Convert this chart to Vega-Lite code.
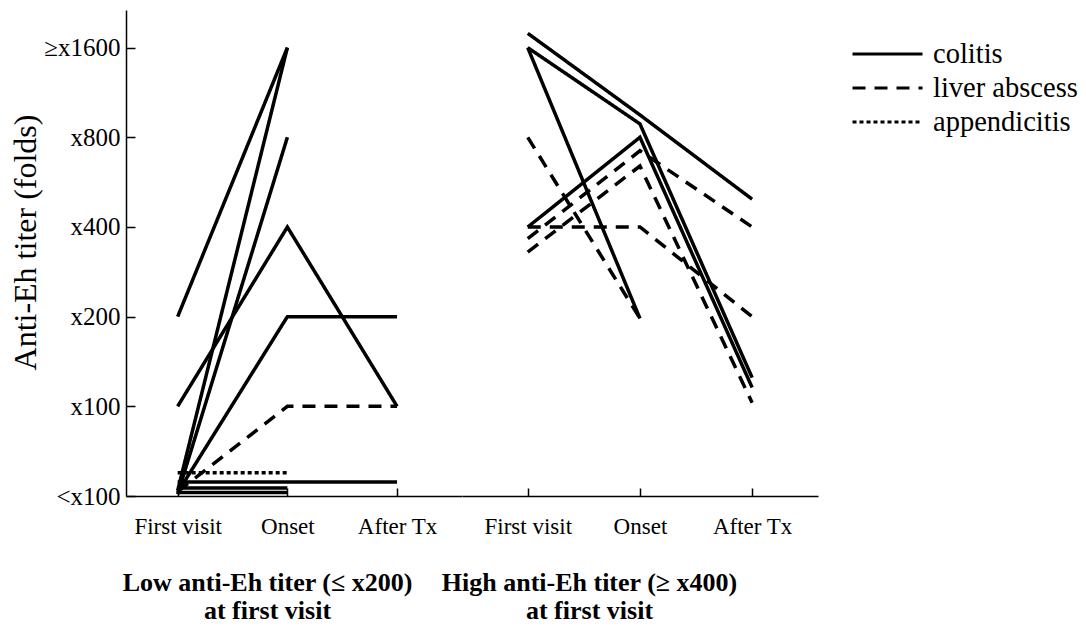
{
  "$schema": "https://vega.github.io/schema/vega-lite/v6.json",
  "padding": {"left": 9, "top": 10, "right": 5, "bottom": 5},
  "background": "white",
  "bounds": "flush",
  "config": {
    "view": {"stroke": null},
    "concat": {"spacing": 0},
    "font": "Liberation Serif",
    "axis": {
      "labelFont": "Liberation Serif", "titleFont": "Liberation Serif",
      "labelColor": "black", "titleColor": "black",
      "domainColor": "black", "tickColor": "black",
      "grid": false, "domainWidth": 1.5, "tickWidth": 1.5
    }
  },
  "datasets": {
    "low": [
      {"id": "L1", "dx": "colitis", "t": 1, "level": 2.0},
      {"id": "L1", "dx": "colitis", "t": 2, "level": 5.0},
      {"id": "L2", "dx": "colitis", "t": 1, "level": 1.0},
      {"id": "L2", "dx": "colitis", "t": 2, "level": 3.0},
      {"id": "L2", "dx": "colitis", "t": 3, "level": 1.0},
      {"id": "L3", "dx": "colitis", "t": 1, "level": 0.04},
      {"id": "L3", "dx": "colitis", "t": 2, "level": 2.0},
      {"id": "L3", "dx": "colitis", "t": 3, "level": 2.0},
      {"id": "L4", "dx": "colitis", "t": 1, "level": 0.06},
      {"id": "L4", "dx": "colitis", "t": 2, "level": 5.0},
      {"id": "L5", "dx": "colitis", "t": 1, "level": 0.02},
      {"id": "L5", "dx": "colitis", "t": 2, "level": 4.0},
      {"id": "L6", "dx": "colitis", "t": 1, "level": 0.155},
      {"id": "L6", "dx": "colitis", "t": 2, "level": 0.155},
      {"id": "L6", "dx": "colitis", "t": 3, "level": 0.155},
      {"id": "L7", "dx": "colitis", "t": 1, "level": 0.09},
      {"id": "L7", "dx": "colitis", "t": 2, "level": 0.09},
      {"id": "L8", "dx": "colitis", "t": 1, "level": 0.04},
      {"id": "L8", "dx": "colitis", "t": 2, "level": 0.04},
      {"id": "L9", "dx": "liver abscess", "t": 1, "level": 0.05},
      {"id": "L9", "dx": "liver abscess", "t": 2, "level": 1.0},
      {"id": "L9", "dx": "liver abscess", "t": 3, "level": 1.0},
      {"id": "L10", "dx": "appendicitis", "t": 1, "level": 0.26},
      {"id": "L10", "dx": "appendicitis", "t": 2, "level": 0.26}
    ],
    "high": [
      {"id": "R1", "dx": "colitis", "t": 1, "level": 5.16},
      {"id": "R1", "dx": "colitis", "t": 2, "level": 4.25},
      {"id": "R1", "dx": "colitis", "t": 3, "level": 3.31},
      {"id": "R2", "dx": "colitis", "t": 1, "level": 5.0},
      {"id": "R2", "dx": "colitis", "t": 2, "level": 4.15},
      {"id": "R2", "dx": "colitis", "t": 3, "level": 1.32},
      {"id": "R3", "dx": "colitis", "t": 1, "level": 3.0},
      {"id": "R3", "dx": "colitis", "t": 2, "level": 4.0},
      {"id": "R3", "dx": "colitis", "t": 3, "level": 1.21},
      {"id": "R4", "dx": "colitis", "t": 1, "level": 5.0},
      {"id": "R4", "dx": "colitis", "t": 2, "level": 1.98},
      {"id": "D1", "dx": "liver abscess", "t": 1, "level": 4.0},
      {"id": "D1", "dx": "liver abscess", "t": 2, "level": 1.98},
      {"id": "D2", "dx": "liver abscess", "t": 1, "level": 3.0},
      {"id": "D2", "dx": "liver abscess", "t": 2, "level": 3.0},
      {"id": "D2", "dx": "liver abscess", "t": 3, "level": 2.0},
      {"id": "D3", "dx": "liver abscess", "t": 1, "level": 2.87},
      {"id": "D3", "dx": "liver abscess", "t": 2, "level": 3.85},
      {"id": "D3", "dx": "liver abscess", "t": 3, "level": 3.0},
      {"id": "D4", "dx": "liver abscess", "t": 1, "level": 2.72},
      {"id": "D4", "dx": "liver abscess", "t": 2, "level": 3.68},
      {"id": "D4", "dx": "liver abscess", "t": 3, "level": 1.04}
    ]
  },
  "hconcat": [
    {
      "width": 336,
      "height": 486,
      "data": {"name": "low"},
      "mark": {"type": "line", "stroke": "black", "strokeWidth": 3.5, "strokeCap": "butt"},
      "encoding": {
        "x": {
          "field": "t", "type": "quantitative",
          "scale": {"domain": [0.529, 3.592], "nice": false, "zero": false},
          "axis": {
            "values": [1, 2, 3],
            "labelExpr": "datum.value == 1 ? 'First visit' : datum.value == 2 ? 'Onset' : 'After Tx'",
            "labelFontSize": 23, "tickSize": -8, "labelPadding": 27,
            "title": ["Low anti-Eh titer (≤ x200)", "at first visit"],
            "titleFontSize": 26, "titleFontWeight": "bold",
            "titleX": 141, "titleY": 73, "titleBaseline": "top", "titleLineHeight": 28
          }
        },
        "y": {
          "field": "level", "type": "quantitative",
          "scale": {"domain": [0, 5.42], "nice": false, "zero": false},
          "axis": {
            "values": [0, 1, 2, 3, 4, 5],
            "labelExpr": "['<x100','x100','x200','x400','x800','≥x1600'][datum.value]",
            "labelFontSize": 25, "tickSize": -9, "labelPadding": 15,
            "title": "Anti-Eh titer (folds)", "titleFontSize": 32, "titleFontWeight": "normal",
            "titleX": -84, "titleY": 232
          }
        },
        "detail": {"field": "id"},
        "strokeDash": {
          "field": "dx", "type": "nominal",
          "scale": {"domain": ["colitis", "liver abscess", "appendicitis"], "range": [[1, 0], [13, 9], [4, 3]]},
          "legend": {
            "title": null, "orient": "none", "legendX": 725, "legendY": 29,
            "symbolType": "stroke", "symbolSize": 4900, "symbolStrokeWidth": 3,
            "symbolStrokeColor": "black", "clipHeight": 30,
            "labelFont": "Liberation Serif", "labelFontSize": 28.5, "labelColor": "black",
            "labelOffset": 9, "rowPadding": 4
          }
        }
      }
    },
    {
      "width": 356,
      "height": 486,
      "data": {"name": "high"},
      "mark": {"type": "line", "stroke": "black", "strokeWidth": 3.5, "strokeCap": "butt"},
      "encoding": {
        "x": {
          "field": "t", "type": "quantitative",
          "scale": {"domain": [0.414, 3.587], "nice": false, "zero": false},
          "axis": {
            "values": [1, 2, 3],
            "labelExpr": "datum.value == 1 ? 'First visit' : datum.value == 2 ? 'Onset' : 'After Tx'",
            "labelFontSize": 23, "tickSize": -8, "labelPadding": 27,
            "title": ["High anti-Eh titer (≥ x400)", "at first visit"],
            "titleFontSize": 26, "titleFontWeight": "bold",
            "titleX": 127, "titleY": 73, "titleBaseline": "top", "titleLineHeight": 28
          }
        },
        "y": {
          "field": "level", "type": "quantitative",
          "scale": {"domain": [0, 5.42], "nice": false, "zero": false},
          "axis": null
        },
        "detail": {"field": "id"},
        "strokeDash": {
          "field": "dx", "type": "nominal",
          "scale": {"domain": ["colitis", "liver abscess", "appendicitis"], "range": [[1, 0], [13, 9], [4, 3]]}
        }
      }
    }
  ]
}
